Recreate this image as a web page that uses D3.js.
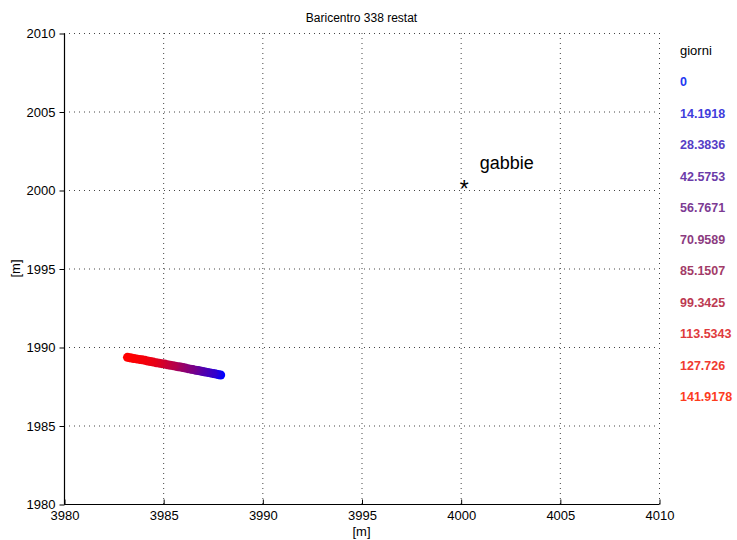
<!DOCTYPE html>
<html>
<head>
<meta charset="utf-8">
<script src="https://cdn.jsdelivr.net/npm/d3@7"></script>
<style>
  html, body { margin: 0; padding: 0; background: #fff; }
  svg { display: block; font-family: "Liberation Sans", Arial, Helvetica, sans-serif; }
</style>
</head>
<body>
<svg id="chart" width="737" height="540"></svg>
<script>
// Centroid track of group 338 (x, y in metres, time in days)
const trackX = [3987.90, 3987.80, 3987.70, 3987.60, 3987.50, 3987.38, 3987.25, 3987.12,
  3987.00, 3986.88, 3986.76, 3986.64, 3986.50, 3986.38, 3986.25, 3986.12, 3986.00,
  3985.88, 3985.76, 3985.62, 3985.50, 3985.36, 3985.22, 3985.08, 3984.94, 3984.80,
  3984.66, 3984.50, 3984.36, 3984.22, 3984.08, 3983.94, 3983.80, 3983.66, 3983.52,
  3983.40, 3983.30, 3983.20];
const trackY = [1988.22, 1988.24, 1988.27, 1988.29, 1988.32, 1988.35, 1988.38, 1988.41,
  1988.44, 1988.47, 1988.50, 1988.52, 1988.56, 1988.59, 1988.62, 1988.66, 1988.69,
  1988.72, 1988.74, 1988.78, 1988.81, 1988.84, 1988.87, 1988.91, 1988.94, 1988.97,
  1989.00, 1989.04, 1989.08, 1989.11, 1989.15, 1989.18, 1989.21, 1989.24, 1989.27,
  1989.30, 1989.32, 1989.34];
const trackDay = [0, 7, 14, 21, 28, 31, 35, 39, 43, 47, 51, 58, 64, 68, 72, 76, 80,
  84, 88, 95, 100, 103, 107, 111, 115, 119, 124, 128, 130, 132, 134, 136, 137, 138,
  139, 140, 141, 141.9178];

// Cage position
const cageX = [4000];
const cageY = [2000];
const cageLabel = ["gabbie"];

// Axis ticks
const xTicks = [3980, 3985, 3990, 3995, 4000, 4005, 4010];
const yTicks = [1980, 1985, 1990, 1995, 2000, 2005, 2010];

// Legend: day values with their text colours
const legendTitle = "giorni";
const legendDays = ["0", "14.1918", "28.3836", "42.5753", "56.7671", "70.9589",
  "85.1507", "99.3425", "113.5343", "127.726", "141.9178"];
const legendColors = ["#2238f2", "#3f3ddc", "#553dc6", "#6b3ba8", "#7c3b93", "#8c3b80",
  "#a23b68", "#bc3a52", "#df3a3c", "#f03a30", "#fd3c1e"];

const titleText = "Baricentro 338 restat";
const xLabel = "[m]";
const yLabel = "[m]";

const svg = d3.select("#chart");
const plotLeft = 64, plotRight = 659, plotTop = 33, plotBottom = 504;

const x = d3.scaleLinear().domain([3980, 4010]).range([plotLeft, plotRight]);
const y = d3.scaleLinear().domain([1980, 2010]).range([plotBottom, plotTop]);

// Dotted grid
const grid = svg.append("g").attr("stroke", "#444").attr("stroke-width", 1)
  .attr("stroke-dasharray", "1,4");
grid.selectAll("line.vx").data(xTicks).join("line")
  .attr("x1", d => x(d) + 0.5).attr("x2", d => x(d) + 0.5)
  .attr("y1", plotTop).attr("y2", plotBottom);
grid.selectAll("line.hy").data(yTicks).join("line")
  .attr("y1", d => y(d) + 0.5).attr("y2", d => y(d) + 0.5)
  .attr("x1", plotLeft).attr("x2", plotRight);

// Axes
const xAxis = d3.axisBottom(x).tickValues(xTicks).tickSize(-5).tickPadding(8)
  .tickFormat(d3.format("d"));
const yAxis = d3.axisLeft(y).tickValues(yTicks).tickSize(5).tickPadding(4)
  .tickFormat(d3.format("d"));

const gx = svg.append("g").attr("transform", `translate(0.5,${plotBottom + 0.5})`).call(xAxis);
const gy = svg.append("g").attr("transform", `translate(${plotLeft + 0.5},0.5)`).call(yAxis);
[gx, gy].forEach(g => {
  g.select(".domain").attr("stroke", "#000").attr("stroke-width", 1.2);
  g.selectAll(".tick line").attr("stroke", "#000");
  g.selectAll(".tick text").attr("fill", "#000").attr("font-size", 13)
    .attr("font-family", "Liberation Sans, Arial, sans-serif");
});
gx.select(".domain").attr("d", `M${plotLeft},0H${plotRight}`);
gy.select(".domain").attr("d", `M0,${plotTop}V${plotBottom}`);
gx.selectAll(".tick text").attr("dy", "0.55em");

// Title and axis labels
svg.append("text").attr("x", (plotLeft + plotRight) / 2).attr("y", 22)
  .attr("text-anchor", "middle").attr("font-size", 12).text(titleText);
svg.append("text").attr("x", (plotLeft + plotRight) / 2).attr("y", 536)
  .attr("text-anchor", "middle").attr("font-size", 13).text(xLabel);
svg.append("text").attr("transform", `translate(20,${(plotTop + plotBottom) / 2}) rotate(-90)`)
  .attr("text-anchor", "middle").attr("font-size", 13).text(yLabel);

// Track points coloured by day
const color = d3.scaleLinear().domain([0, 141.9178]).range(["#0000ff", "#ff0000"])
  .interpolate(d3.interpolateRgb);
const pts = trackX.map((d, i) => ({ x: d, y: trackY[i], day: trackDay[i] }));
svg.append("g").selectAll("circle").data(pts).join("circle")
  .attr("cx", d => x(d.x)).attr("cy", d => y(d.y)).attr("r", 4.5)
  .attr("fill", d => color(d.day));

// Cage marker and label
const cages = cageX.map((d, i) => ({ x: d, y: cageY[i], label: cageLabel[i] }));
const cg = svg.append("g").selectAll("g").data(cages).join("g");
cg.append("text").attr("x", d => x(d.x) - 1).attr("y", d => y(d.y) + 7)
  .attr("font-size", 23).text("*");
cg.append("text").attr("x", d => x(d.x) + 19).attr("y", d => y(d.y) - 21)
  .attr("font-size", 18).text(d => d.label);

// Legend
const lg = svg.append("g").attr("transform", "translate(680,0)");
lg.append("text").attr("x", 0).attr("y", 55).attr("font-size", 13).text(legendTitle);
lg.selectAll("text.day").data(legendDays).join("text").attr("class", "day")
  .attr("x", 0).attr("y", (d, i) => 86 + i * 31.5)
  .attr("font-size", 12.5).attr("font-weight", "bold")
  .attr("fill", (d, i) => legendColors[i]).text(d => d);
</script>
</body>
</html>
